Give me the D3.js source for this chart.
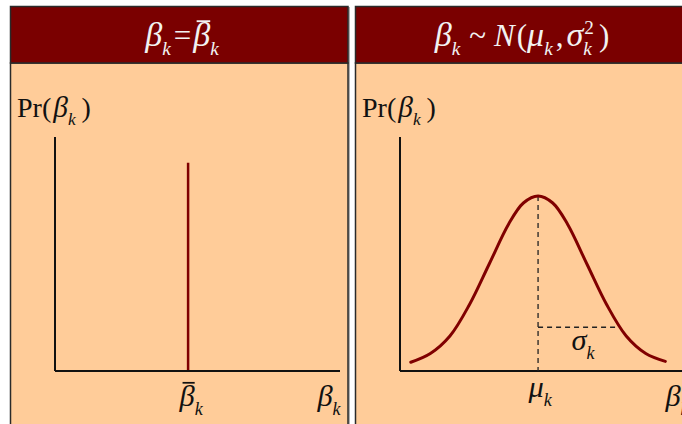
<!DOCTYPE html>
<html>
<head>
<meta charset="utf-8">
<script src="https://cdn.jsdelivr.net/npm/d3@7/dist/d3.min.js"></script>
<style>
  html, body { margin: 0; padding: 0; background: #ffffff; }
  svg { display: block; }
  text { font-family: "Liberation Serif", "Times New Roman", serif; }
</style>
</head>
<body>
<svg id="chart" width="682" height="424"></svg>
<script>
// Fixed coefficient: a single spike at beta-bar (position, relative height)
const fixedPosition = [0.467];
const fixedHeight = [0.89];

// Random coefficient: density read in units of sigma around mu
const normalX = [-2.6, -2.2, -1.8, -1.4, -1.0, -0.6, -0.3, 0, 0.3, 0.6, 1.0, 1.4, 1.8, 2.2, 2.6];
const normalY = [0.05, 0.10, 0.20, 0.38, 0.61, 0.84, 0.96, 1.0, 0.96, 0.84, 0.61, 0.38, 0.20, 0.10, 0.055];

// Guide lines: mean drop-line and the sigma span
const meanX = [0];
const sigmaSpan = [0, 1.62];
const sigmaLevel = [0.25];

const svg = d3.select("#chart");
const HEADER = "#7a0000", BODY = "#ffcc99", CURVE = "#800000", INK = "#111111";

// Compose a math-like label from segments; returns the group
function mathLabel(parent, segs, x, y, size, fill, anchor) {
  const grp = parent.append("g").attr("fill", fill);
  let cx = 0;
  segs.forEach(s => {
    cx += s.pre || 0;
    const fs = s.size ? size * s.size : size;
    if (s.sub !== undefined || s.sup !== undefined) {
      let w = 0;
      if (s.sub !== undefined) {
        const t = grp.append("text").attr("x", cx).attr("y", size * 0.3)
          .attr("font-size", size * 0.62).attr("font-style", "italic").text(s.sub);
        w = Math.max(w, t.node().getComputedTextLength());
      }
      if (s.sup !== undefined) {
        const t = grp.append("text").attr("x", cx + (s.supDx || 0)).attr("y", -size * 0.38)
          .attr("font-size", size * 0.62).text(s.sup);
        w = Math.max(w, t.node().getComputedTextLength() + (s.supDx || 0));
      }
      cx += w;
    } else {
      const t = grp.append("text").attr("x", cx).attr("y", 0)
        .attr("font-size", fs).attr("font-style", s.it ? "italic" : "normal").text(s.t);
      const w = t.node().getComputedTextLength();
      if (s.bar) {
        grp.append("line").attr("x1", cx + w * 0.2).attr("x2", cx + w * 1.0)
          .attr("y1", -size * 0.8).attr("y2", -size * 0.8)
          .attr("stroke", fill).attr("stroke-width", size * 0.06);
      }
      cx += w;
    }
    cx += s.post || 0;
  });
  const shift = anchor === "middle" ? -cx / 2 : anchor === "end" ? -cx : 0;
  grp.attr("transform", `translate(${x + shift},${y})`);
  return grp;
}

// ---------- panel frames ----------
function panel(x0, x1) {
  // soft shadow on the right side
  svg.append("rect").attr("x", x0 + 1).attr("y", 7).attr("width", x1 - x0 + 1).attr("height", 430)
    .attr("fill", "#b0b0b0");
  svg.append("rect").attr("x", x0).attr("y", 63).attr("width", x1 - x0).attr("height", 380)
    .attr("fill", BODY).attr("stroke", "#2a2a2a").attr("stroke-width", 1.5);
  svg.append("rect").attr("x", x0).attr("y", 6.5).attr("width", x1 - x0).attr("height", 56.5)
    .attr("fill", HEADER).attr("stroke", "#2a2a2a").attr("stroke-width", 1.5);
}
panel(10.5, 348);
panel(355.5, 700);

// ---------- left panel: fixed coefficient ----------
const L = svg.append("g");
const xL = d3.scaleLinear().domain([0, 1]).range([55, 340]);
const yL = d3.scaleLinear().domain([0, 1]).range([371, 137]);

L.append("line").attr("x1", xL(0)).attr("x2", xL(0)).attr("y1", yL(0)).attr("y2", yL(1))
  .attr("stroke", INK).attr("stroke-width", 2);
L.append("line").attr("x1", xL(0)).attr("x2", xL(1)).attr("y1", yL(0)).attr("y2", yL(0))
  .attr("stroke", INK).attr("stroke-width", 2);
L.selectAll("line.spike").data(fixedPosition).join("line").attr("class", "spike")
  .attr("x1", d => xL(d)).attr("x2", d => xL(d))
  .attr("y1", yL(0) - 1).attr("y2", (d, i) => yL(fixedHeight[i]))
  .attr("stroke", CURVE).attr("stroke-width", 2.5);

// ---------- right panel: normally distributed coefficient ----------
const R = svg.append("g");
const xR = d3.scaleLinear().domain([-2.82, 2.94]).range([400, 682]);
const yR = d3.scaleLinear().domain([0, 1]).range([371, 196]);
const yRtop = 137;

R.append("line").attr("x1", xR(-2.82)).attr("x2", xR(-2.82)).attr("y1", yR(0)).attr("y2", yRtop)
  .attr("stroke", INK).attr("stroke-width", 2);
R.append("line").attr("x1", xR(-2.82)).attr("x2", xR(2.94)).attr("y1", yR(0)).attr("y2", yR(0))
  .attr("stroke", INK).attr("stroke-width", 2);

// dashed guides
R.selectAll("line.mean").data(meanX).join("line").attr("class", "mean")
  .attr("x1", d => xR(d)).attr("x2", d => xR(d)).attr("y1", yR(1)).attr("y2", yR(0))
  .attr("stroke", "#222").attr("stroke-width", 1.3).attr("stroke-dasharray", "5,4");
R.append("line")
  .attr("x1", xR(sigmaSpan[0])).attr("x2", xR(sigmaSpan[1]))
  .attr("y1", yR(sigmaLevel[0])).attr("y2", yR(sigmaLevel[0]))
  .attr("stroke", "#222").attr("stroke-width", 1.3).attr("stroke-dasharray", "5,4");

const pts = normalX.map((x, i) => [x, normalY[i]]);
R.append("path").datum(pts)
  .attr("d", d3.line().x(d => xR(d[0])).y(d => yR(d[1])).curve(d3.curveCatmullRom))
  .attr("fill", "none").attr("stroke", CURVE).attr("stroke-width", 3).attr("stroke-linecap", "round");

// ---------- text ----------
const HDR_TXT = "#f2f2f2";
mathLabel(svg, [
  { t: "β", it: true, size: 1.1 }, { sub: "k", post: 3 }, { t: "=", post: 2 },
  { t: "β", it: true, bar: true, size: 1.1 }, { sub: "k" }
], 182, 46, 31, HDR_TXT, "middle");

mathLabel(svg, [
  { t: "β", it: true, size: 1.1 }, { sub: "k", post: 9 }, { t: "~", post: 8 }, { t: "N", it: true },
  { t: "(", pre: 2 }, { t: "μ", it: true, size: 1.1 }, { sub: "k", post: 3 }, { t: ",", post: 3 },
  { t: "σ", it: true, size: 1.1 }, { sub: "k", sup: "2", supDx: 1, post: 5 }, { t: ")" }
], 522, 46, 31, HDR_TXT, "middle");

const prLabel = [{ t: "Pr(" }, { t: "β", it: true, pre: 2, size: 1.05 }, { sub: "k", post: 6 }, { t: ")" }];
mathLabel(svg, prLabel, 17, 117, 28, INK, "start");
mathLabel(svg, prLabel, 362, 117, 28, INK, "start");

mathLabel(svg, [{ t: "β", it: true, bar: true, size: 1.05 }, { sub: "k" }], xL(fixedPosition[0]) + 3, 406, 29, INK, "middle");
mathLabel(svg, [{ t: "β", it: true, size: 1.05 }, { sub: "k" }], 329, 406, 29, INK, "middle");

mathLabel(svg, [{ t: "μ", it: true, size: 1.05 }, { sub: "k" }], xR(meanX[0]) + 2, 397, 29, INK, "middle");
mathLabel(svg, [{ t: "β", it: true, size: 1.05 }, { sub: "k" }], 677, 406, 29, INK, "middle");
mathLabel(svg, [{ t: "σ", it: true, size: 1.05 }, { sub: "k" }], 583, 350, 29, INK, "middle");
</script>
</body>
</html>
